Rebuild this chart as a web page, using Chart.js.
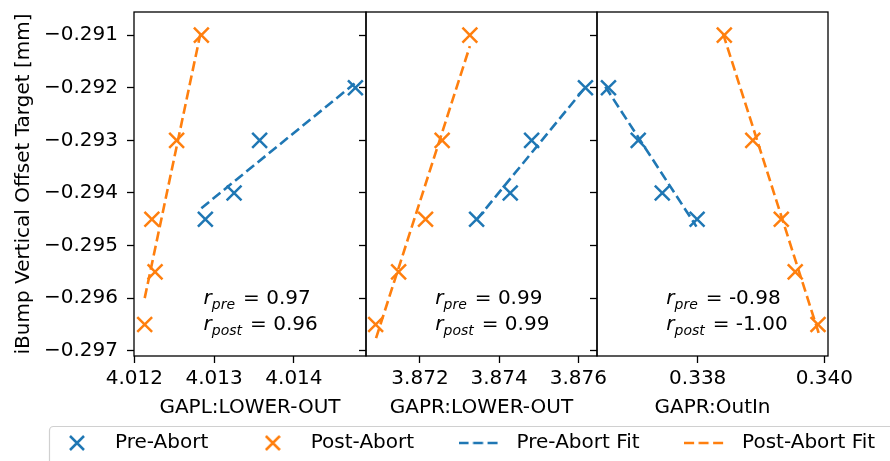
<!DOCTYPE html>
<html>
<head>
<meta charset="utf-8">
<script src="https://cdn.jsdelivr.net/npm/chart.js@4.4.1/dist/chart.umd.min.js"></script>
<style>
  html, body { margin: 0; padding: 0; background: #fff; }
  body { width: 890px; height: 461px; overflow: hidden; position: relative; }
  canvas { position: absolute; left: 0; }
</style>
</head>
<body>
<canvas id="p1" width="890" height="425" style="top:0"></canvas>
<canvas id="p2" width="890" height="425" style="top:0"></canvas>
<canvas id="p3" width="890" height="425" style="top:0"></canvas>
<canvas id="leg" width="960" height="150" style="top:396px"></canvas>
<script>
// shared y values (iBump vertical offset target, mm)
var preY = [-0.292, -0.293, -0.294, -0.2945];
var postY = [-0.291, -0.293, -0.2945, -0.2955, -0.2965];

// x values per panel
var gaplPreX = [4.01477, 4.01357, 4.01325, 4.01289];
var gaplPostX = [4.01284, 4.01253, 4.01222, 4.01226, 4.01213];
var gaprPreX = [3.87618, 3.87482, 3.87428, 3.87343];
var gaprPostX = [3.87326, 3.87256, 3.87214, 3.87146, 3.87088];
var outInPreX = [0.33659, 0.33706, 0.33744, 0.33799];
var outInPostX = [0.33842, 0.33887, 0.33932, 0.33954, 0.33990];

// fit line end points
var gaplPreFitX = [4.01284, 4.01476], gaplPreFitY = [-0.29429, -0.29192];
var gaplPostFitX = [4.01213, 4.01283], gaplPostFitY = [-0.29600, -0.29096];
var gaprPreFitX = [3.87343, 3.87618], gaprPreFitY = [-0.29451, -0.29199];
var gaprPostFitX = [3.87089, 3.87326], gaprPostFitY = [-0.29676, -0.29121];
var outInPreFitX = [0.33654, 0.33798], outInPreFitY = [-0.29198, -0.29464];
var outInPostFitX = [0.33840, 0.33991], outInPostFitY = [-0.29097, -0.29666];

// ticks and ranges
var yTicks = [-0.297, -0.296, -0.295, -0.294, -0.293, -0.292, -0.291];
var yRange = [-0.2971, -0.29056];
var gaplTicks = [4.012, 4.013, 4.014];
var gaprTicks = [3.872, 3.874, 3.876];
var outInTicks = [0.338, 0.340];
var gaplRange = [4.011996, 4.014903];
var gaprRange = [3.870636, 3.876472];
var outInRange = [0.336409, 0.340058];

var xTitles = ['GAPL:LOWER-OUT', 'GAPR:LOWER-OUT', 'GAPR:OutIn'];
var rPre = ['0.97', '0.99', '-0.98'];
var rPost = ['0.96', '0.99', '-1.00'];
var seriesNames = ['Pre-Abort', 'Post-Abort', 'Pre-Abort Fit', 'Post-Abort Fit'];

var BLUE = '#1f77b4', ORANGE = '#ff7f0e';
var DASH = [10, 4.5];

Chart.defaults.font.family = '"DejaVu Sans", sans-serif';
Chart.defaults.font.size = 20;
Chart.defaults.color = '#000';

function pts(xs, ys) {
  return xs.map(function(x, k) { return {x: x, y: ys[k]}; });
}
function fmt(v) {
  return Number(v).toFixed(3).replace('-', '\u2212');
}
function noPad(s) {
  s.paddingLeft = s.paddingRight = s.paddingTop = s.paddingBottom = 0;
}

// box around each plot area
var framePlugin = {
  id: 'frame',
  afterDatasetsDraw: function(chart) {
    var a = chart.chartArea, ctx = chart.ctx;
    ctx.save();
    ctx.strokeStyle = '#000';
    ctx.lineWidth = 1.3;
    ctx.strokeRect(a.left, a.top, a.right - a.left, a.bottom - a.top);
    ctx.restore();
  }
};

// correlation text in each panel
var rTextPlugin = {
  id: 'rText',
  afterDraw: function(chart, args, opts) {
    var a = chart.chartArea, ctx = chart.ctx;
    var x0 = a.left + 0.30 * (a.right - a.left);
    var rows = [['pre', opts.pre, a.bottom - 52], ['post', opts.post, a.bottom - 26]];
    ctx.save();
    ctx.fillStyle = '#000';
    ctx.textBaseline = 'alphabetic';
    ctx.textAlign = 'left';
    rows.forEach(function(r) {
      ctx.font = 'italic 20px "DejaVu Sans"';
      ctx.fillText('r', x0, r[2]);
      var x = x0 + ctx.measureText('r').width;
      ctx.font = 'italic 14px "DejaVu Sans"';
      ctx.fillText(r[0], x, r[2] + 5);
      x += ctx.measureText(r[0]).width + 8;
      ctx.font = '20px "DejaVu Sans"';
      ctx.fillText('= ' + r[1], x, r[2]);
    });
    ctx.restore();
  }
};

function makePanel(id, idx, left, right, xRange, xTicks, pre, post, preFit, postFit) {
  var first = idx === 0;
  var yw = first ? 134 : 7;
  return new Chart(document.getElementById(id), {
    type: 'scatter',
    data: {
      datasets: [
        {label: seriesNames[2], data: preFit, showLine: true, borderColor: BLUE, borderWidth: 2.6,
         borderDash: DASH, pointRadius: 0, clip: false},
        {label: seriesNames[3], data: postFit, showLine: true, borderColor: ORANGE, borderWidth: 2.6,
         borderDash: DASH, pointRadius: 0, clip: false},
        {label: seriesNames[0], data: pre, pointStyle: 'crossRot', pointRadius: 10.5,
         borderColor: BLUE, backgroundColor: BLUE, pointBorderWidth: 2.5, clip: false},
        {label: seriesNames[1], data: post, pointStyle: 'crossRot', pointRadius: 10.5,
         borderColor: ORANGE, backgroundColor: ORANGE, pointBorderWidth: 2.5, clip: false}
      ]
    },
    options: {
      responsive: false,
      animation: false,
      events: [],
      layout: {autoPadding: false, padding: {left: left - yw, right: 890 - right, top: 12, bottom: 0}},
      plugins: {
        legend: {display: false},
        tooltip: {enabled: false},
        rText: {pre: rPre[idx], post: rPost[idx]}
      },
      scales: {
        x: {
          type: 'linear', min: xRange[0], max: xRange[1],
          afterBuildTicks: function(s) { s.ticks = xTicks.map(function(v) { return {value: v}; }); },
          afterFit: function(s) { s.height = 69; noPad(s); },
          ticks: {callback: fmt, padding: 4, maxRotation: 0, autoSkip: false},
          grid: {drawOnChartArea: false, tickLength: 7, tickWidth: 1.3, tickColor: '#000'},
          border: {display: false},
          title: {display: true, text: xTitles[idx], padding: {top: 0, bottom: 5}}
        },
        y: {
          type: 'linear', min: yRange[0], max: yRange[1],
          afterBuildTicks: function(s) { s.ticks = yTicks.map(function(v) { return {value: v}; }); },
          afterFit: function(s) { s.width = yw; noPad(s); },
          ticks: {display: first, callback: fmt, padding: 9},
          grid: {drawOnChartArea: false, tickLength: 7, tickWidth: 1.3, tickColor: '#000'},
          border: {display: false},
          title: {display: first, text: 'iBump Vertical Offset Target [mm]', padding: {top: 12, bottom: 0}}
        }
      }
    },
    plugins: [framePlugin, rTextPlugin]
  });
}

makePanel('p1', 0, 134, 366, gaplRange, gaplTicks,
  pts(gaplPreX, preY), pts(gaplPostX, postY), pts(gaplPreFitX, gaplPreFitY), pts(gaplPostFitX, gaplPostFitY));
makePanel('p2', 1, 366, 597, gaprRange, gaprTicks,
  pts(gaprPreX, preY), pts(gaprPostX, postY), pts(gaprPreFitX, gaprPreFitY), pts(gaprPostFitX, gaprPostFitY));
makePanel('p3', 2, 597, 828, outInRange, outInTicks,
  pts(outInPreX, preY), pts(outInPostX, postY), pts(outInPreFitX, outInPreFitY), pts(outInPostFitX, outInPostFitY));

// legend symbols
function crossImg(color) {
  var c = document.createElement('canvas');
  c.width = 16; c.height = 16;
  var g = c.getContext('2d');
  g.strokeStyle = color; g.lineWidth = 2.5;
  g.beginPath();
  g.moveTo(1, 1); g.lineTo(15, 15);
  g.moveTo(15, 1); g.lineTo(1, 15);
  g.stroke();
  return c;
}
function dashImg(color) {
  var c = document.createElement('canvas');
  c.width = 40; c.height = 4;
  var g = c.getContext('2d');
  g.strokeStyle = color; g.lineWidth = 2.6;
  g.setLineDash(DASH);
  g.beginPath();
  g.moveTo(0, 2); g.lineTo(40, 2);
  g.stroke();
  return c;
}

var legendFrame = {
  id: 'legendFrame',
  beforeDraw: function(chart) {
    var ctx = chart.ctx;
    ctx.save();
    ctx.strokeStyle = '#d0d0d0';
    ctx.lineWidth = 1.2;
    ctx.beginPath();
    if (ctx.roundRect) ctx.roundRect(49.5, 30.5, 1000, 200, 4);
    else ctx.rect(49.5, 30.5, 1000, 200);
    ctx.stroke();
    ctx.restore();
  }
};

new Chart(document.getElementById('leg'), {
  type: 'scatter',
  data: {
    datasets: [
      {label: seriesNames[0], data: [], pointStyle: crossImg(BLUE), borderColor: BLUE},
      {label: seriesNames[1], data: [], pointStyle: crossImg(ORANGE), borderColor: ORANGE},
      {label: seriesNames[2], data: [], pointStyle: dashImg(BLUE), borderColor: BLUE},
      {label: seriesNames[3], data: [], pointStyle: dashImg(ORANGE), borderColor: ORANGE}
    ]
  },
  options: {
    responsive: false,
    animation: false,
    events: [],
    layout: {autoPadding: false, padding: {left: 12.5, top: 0.5}},
    scales: {x: {display: false}, y: {display: false}},
    plugins: {
      tooltip: {enabled: false},
      legend: {
        position: 'top',
        align: 'start',
        labels: {usePointStyle: true, pointStyleWidth: 56, boxHeight: 16, padding: 36.5,
                 font: {size: 20}, color: '#000'}
      }
    }
  },
  plugins: [legendFrame]
});
</script>
</body>
</html>
